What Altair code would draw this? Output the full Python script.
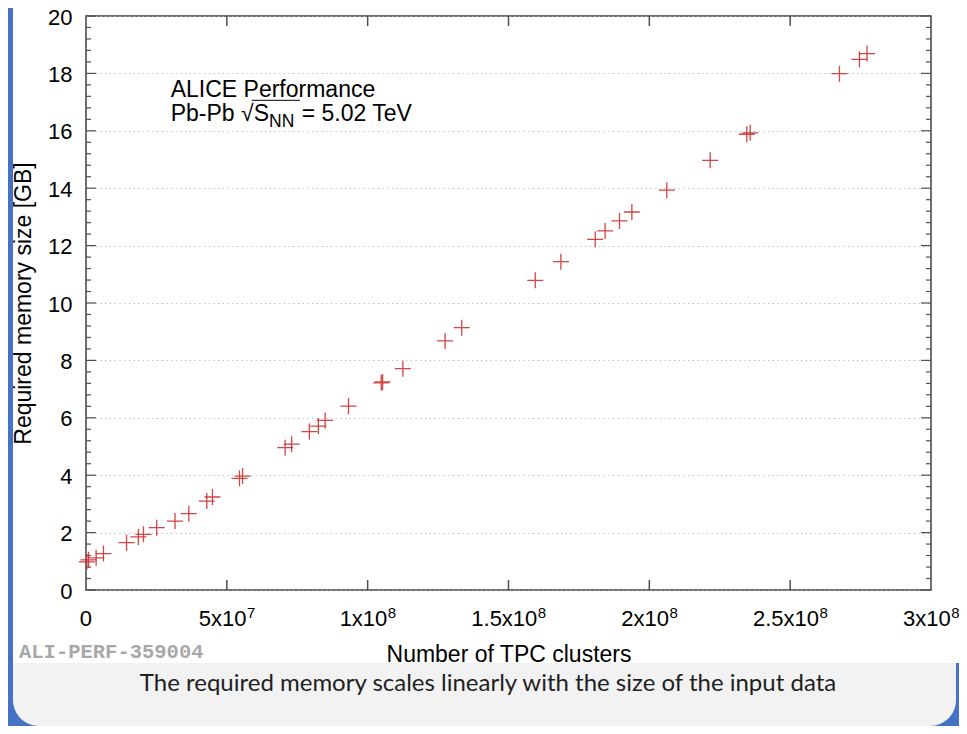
import altair as alt
import pandas as pd

# ---- data (x in millions of TPC clusters, y in GB) ----
tpc_clusters_M = [0.3, 0.9, 3.6, 6.2, 14.4, 18.6, 20.4, 25.1, 31.6, 36.5,
                  42.9, 44.9, 54.5, 55.6, 70.7, 73.0, 79.3, 82.5, 84.9, 93.2,
                  104.8, 105.3, 112.5, 127.5, 133.4, 159.5, 168.6, 180.8, 184.3, 189.4,
                  193.8, 206.2, 221.6, 234.6, 235.8, 267.5, 274.6, 277.3]
memory_GB = [0.98, 1.05, 1.12, 1.27, 1.65, 1.85, 1.94, 2.17, 2.40, 2.66,
             3.10, 3.24, 3.89, 3.97, 4.96, 5.08, 5.52, 5.71, 5.91, 6.41,
             7.22, 7.25, 7.71, 8.68, 9.14, 10.79, 11.44, 12.22, 12.51, 12.86,
             13.17, 13.93, 14.97, 15.88, 15.93, 17.99, 18.49, 18.69]

y_major = [0, 2, 4, 6, 8, 10, 12, 14, 16, 18, 20]
y_minor = [round(i * 0.4, 1) for i in range(51) if i % 5 != 0]
x_major = [0, 50e6, 100e6, 150e6, 200e6, 250e6, 300e6]
x_label_base = ["0", "5x10", "1x10", "1.5x10", "2x10", "2.5x10", "3x10"]
x_label_exp = ["", "7", "8", "8", "8", "8", "8"]
x_inner_ticks = [50e6, 100e6, 150e6, 200e6, 250e6]

W, H = 845, 574
FONT = "Liberation Sans"
RED = "#cc3333"
BLUE = "#4472c4"
LBL = 22      # tick label font size
EXP = 15      # exponent font size
TOP = 8       # top padding

df = pd.DataFrame({"clusters": [v * 1e6 for v in tpc_clusters_M], "mem": memory_GB})
one = pd.DataFrame({"d": [0]})

xscale = alt.Scale(domain=[0, 3e8], nice=False, zero=False)
yscale = alt.Scale(domain=[0, 20], nice=False, zero=False)

x_axis = alt.Axis(values=x_major, labels=False, ticks=False, domain=False, grid=False,
                  title="Number of TPC clusters", titleFont=FONT, titleFontSize=23,
                  titleFontWeight="normal", titleColor="black",
                  titleX=W / 2, titleY=71, titleBaseline="alphabetic", titleAlign="center")
y_axis = alt.Axis(values=y_major, ticks=False, domain=False, grid=True,
                  gridDash=[1.2, 3.5], gridColor="#b8b8b8", gridWidth=1,
                  labelFont=FONT, labelFontSize=LBL, labelColor="black", labelPadding=14,
                  labelOffset=1,
                  title="Required memory size [GB]", titleFont=FONT, titleFontSize=23,
                  titleFontWeight="normal", titleColor="black",
                  titleX=-51, titleY=H / 2, titleAlign="center", titleBaseline="bottom")

# decorative frame pieces (blue border strip, caption box); y in view pixels
CAP_TOP = 663 - 8 - TOP
SVG_BOTTOM = 718 - TOP
blue_left = alt.Chart(one).mark_rect(color=BLUE).encode(
    x=alt.value(-78), x2=alt.value(-73), y=alt.value(-TOP), y2=alt.value(SVG_BOTTOM))
blue_bottom = alt.Chart(one).mark_rect(color=BLUE).encode(
    x=alt.value(-78), x2=alt.value(873), y=alt.value(CAP_TOP), y2=alt.value(SVG_BOTTOM))
caption_box = alt.Chart(one).mark_rect(color="#f2f2f2", cornerRadiusBottomLeft=26,
                                       cornerRadiusBottomRight=26).encode(
    x=alt.value(-73), x2=alt.value(870), y=alt.value(CAP_TOP), y2=alt.value(SVG_BOTTOM))

# points
pts = alt.Chart(df).mark_point(shape="M-1,0L1,0M0,-1L0,1", size=256, filled=False,
                               strokeWidth=1.3, color=RED, opacity=0.9).encode(
    x=alt.X("clusters:Q", scale=xscale, axis=x_axis),
    y=alt.Y("mem:Q", scale=yscale, axis=y_axis))

TICK = "#505050"
ymaj = pd.DataFrame({"yv": y_major})
ymin = pd.DataFrame({"yv": y_minor})
xin = pd.DataFrame({"xv": x_inner_ticks})

def yticks(data, x0, x1):
    return alt.Chart(data).mark_rule(color=TICK, strokeWidth=1.2).encode(
        y=alt.Y("yv:Q", scale=yscale, axis=y_axis), x=alt.value(x0), x2=alt.value(x1))

def xticks(data, y0, y1):
    return alt.Chart(data).mark_rule(color=TICK, strokeWidth=1.5).encode(
        x=alt.X("xv:Q", scale=xscale, axis=x_axis), y=alt.value(y0), y2=alt.value(y1))

ticks = [yticks(ymaj, 0, 10), yticks(ymaj, W, W - 10), yticks(ymin, 0, 5), yticks(ymin, W, W - 5),
         xticks(xin, H, H - 10), xticks(xin, 0, 10)]

# x tick labels with real superscript exponents (each label centred on its tick)
CW = {"0": .556, "1": .556, "2": .556, "3": .556, "5": .556, "7": .556, "8": .556, "x": .5, ".": .278}
def width(s, size):
    return sum(CW[c] for c in s) * size

xlabels = []
for v, base, ex in zip(x_major, x_label_base, x_label_exp):
    bw = width(base, LBL)
    ew = width(ex, EXP)
    shift = bw - (bw + ew) / 2
    d = pd.DataFrame({"xv": [v]})
    xlabels.append(alt.Chart(d).mark_text(text=base, align="right", baseline="alphabetic",
                                          fontSize=LBL, font=FONT, color="black", dx=shift).encode(
        x=alt.X("xv:Q", scale=xscale, axis=x_axis), y=alt.value(H + 36)))
    if ex:
        xlabels.append(alt.Chart(d).mark_text(text=ex, align="left", baseline="alphabetic",
                                              fontSize=EXP, font=FONT, color="black", dx=shift + 0.5).encode(
            x=alt.X("xv:Q", scale=xscale, axis=x_axis), y=alt.value(H + 27.5)))

def txt(text, x, y, size=23, align="left", font=FONT, color="black", weight="normal"):
    return alt.Chart(one).mark_text(text=text, align=align, baseline="alphabetic", fontSize=size,
                                    font=font, color=color, fontWeight=weight).encode(
        x=alt.value(x), y=alt.value(y))

ann = [
    txt("ALICE Performance", 84.7, 81),
    txt("Pb-Pb \u221aS", 84.7, 105),
    txt("NN", 183, 111, size=17.5),
    txt("= 5.02 TeV", 215.7, 105),
    alt.Chart(one).mark_rule(color="black", strokeWidth=1).encode(
        x=alt.value(165.7), x2=alt.value(214), y=alt.value(84.3)),
    txt("ALI-PERF-359004", -67, 658 - 8 - TOP, size=20.5, font="Liberation Mono",
        color="#a8a8a8", weight="bold"),
    txt("The required memory scales linearly with the size of the input data", 402, 691 - 8 - TOP,
        size=24, align="center", font="Lato", color="#1f1f1f"),
]

chart = alt.layer(blue_left, blue_bottom, caption_box, *ticks, pts, *xlabels, *ann).properties(
    width=W, height=H,
    autosize=alt.AutoSizeParams(type="none"),
    padding={"left": 78, "top": TOP, "right": 28, "bottom": 718 - TOP - H},
    background="white",
).configure_view(stroke="#404040", strokeWidth=1.5)

chart.save("out.html", embed_options={"renderer": "svg", "actions": False})
